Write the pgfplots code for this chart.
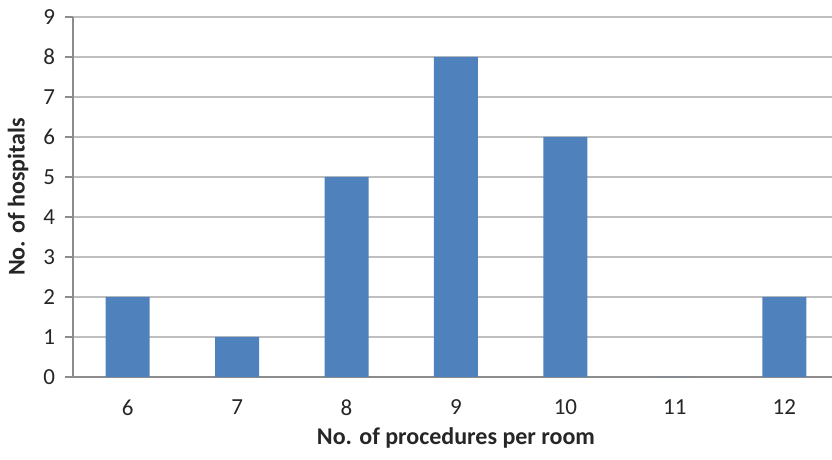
\documentclass[border=0pt]{standalone}
\usepackage{pgfplots}
\pgfplotsset{compat=1.18}
\usepackage{fontspec}
\setmainfont{Carlito}
\definecolor{barblue}{HTML}{4F81BD}
\definecolor{gridgray}{HTML}{BFBFBF}
\definecolor{axisgray}{HTML}{8C8C8C}
\definecolor{txt}{HTML}{262626}
\begin{document}
\begin{tikzpicture}
\begin{axis}[
  name=ax, at={(0,0)}, anchor=south west,
  scale only axis, width=383pt, height=180pt,
  xmin=5.5, xmax=12.5, ymin=0, ymax=9,
  axis x line*=bottom, axis y line*=left,
  axis line style={axisgray, line width=0.7pt},
  ymajorgrids, grid style={gridgray, line width=0.7pt},
  ytick={0,...,9},
  xtick={6,...,12},
  x tick style={draw=none},
  y tick style={axisgray, line width=0.7pt},
  tick align=outside,
  major tick length=4pt,
  extra x ticks={5.5,6.5,...,12.5},
  extra x tick labels={},
  extra x tick style={major tick length=3pt, tick style={axisgray, line width=0.7pt}},
  /pgf/number format/assume math mode=true,
  tick label style={font=\fontsize{11.5}{13}\selectfont, text=txt},
  xticklabel style={yshift=-4pt},
  yticklabel style={xshift=-1.5pt},
  every axis x label/.style={at={(rel axis cs:0.5,0)}, yshift=-30.5pt, anchor=center,
    font=\fontsize{12}{14}\selectfont\bfseries, text=txt},
  every axis y label/.style={at={(rel axis cs:0,0.5)}, xshift=-27.5pt, rotate=90, anchor=center,
    font=\fontsize{12}{14}\selectfont\bfseries, text=txt},
  xlabel={No. of procedures per room},
  ylabel={No. of hospitals},
  clip=false,
]
\addplot[ybar, bar width=22pt, fill=barblue, draw=none] coordinates {
  (6,2) (7,1) (8,5) (9,8) (10,6) (11,0) (12,2)
};
\end{axis}
\pgfresetboundingbox
\path ([shift={(-36.5pt,-41.5pt)}]ax.south west) rectangle ([shift={(379.5pt,188.5pt)}]ax.south west);
\end{tikzpicture}
\end{document}
